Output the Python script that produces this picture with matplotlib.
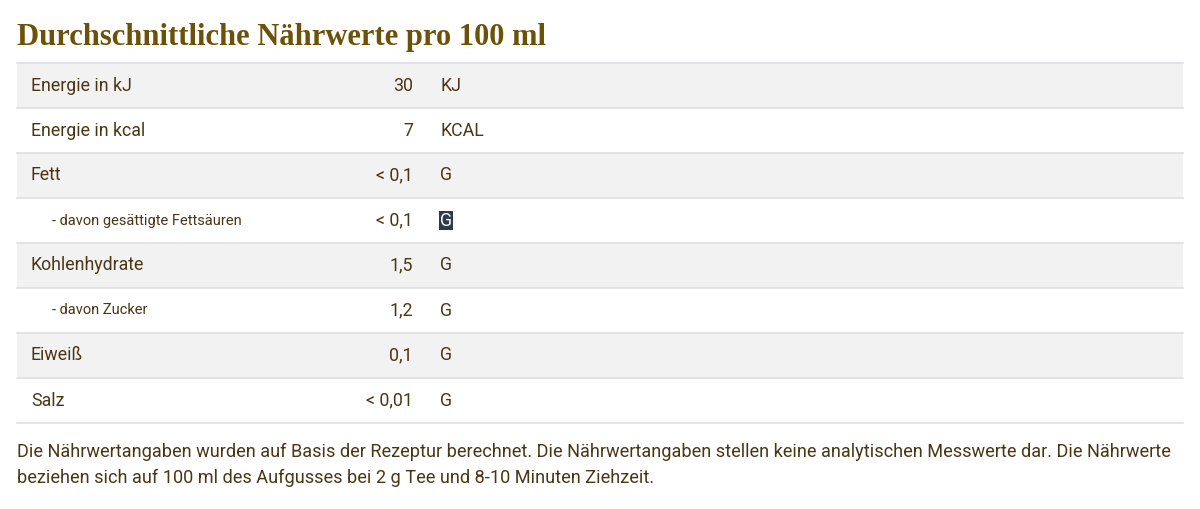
import matplotlib
matplotlib.use("Agg")
import matplotlib.pyplot as plt
from matplotlib.patches import Rectangle

labels = ["Energie in kJ", "Energie in kcal", "Fett", "- davon gesättigte Fettsäuren",
          "Kohlenhydrate", "- davon Zucker", "Eiweiß", "Salz"]
values = ["30", "7", "< 0,1", "< 0,1", "1,5", "1,2", "0,1", "< 0,01"]
units = ["KJ", "KCAL", "G", "G", "G", "G", "G", "G"]
indented = [False, False, False, True, False, True, False, False]

title = "Durchschnittliche Nährwerte pro 100 ml"
footer = ["Die Nährwertangaben wurden auf Basis der Rezeptur berechnet. Die Nährwertangaben stellen keine analytischen Messwerte dar. Die Nährwerte",
          "beziehen sich auf 100 ml des Aufgusses bei 2 g Tee und 8-10 Minuten Ziehzeit."]

W, H = 1200, 509
TXT = "#4a3614"
fig = plt.figure(figsize=(W / 100, H / 100), dpi=100)
ax = fig.add_axes([0, 0, 1, 1])
ax.set_xlim(0, W)
ax.set_ylim(H, 0)
ax.axis("off")

ax.text(17, 37, title, family="Liberation Serif", weight="bold", fontsize=22,
        color="#6b5208", va="center", ha="left")

top, rh, x0, x1 = 63, 45, 17, 1183
for i, (lab, val, unit, ind) in enumerate(zip(labels, values, units, indented)):
    y = top + i * rh
    if i % 2 == 0:
        ax.add_patch(Rectangle((x0, y), x1 - x0, rh, color="#f2f2f2", lw=0))
    ax.plot([x0, x1], [y, y], color="#dde0e4", lw=1.2)
    cy = y + rh / 2
    ax.text(52 if ind else 31, cy, lab, fontsize=10.5 if ind else 12.8, color=TXT,
            va="center", family="Roboto")
    ax.text(413, cy, val, fontsize=12.8, color=TXT, va="center", ha="right", family="Roboto")
    if i == 3:
        ax.text(440, cy, unit, fontsize=12.8, color="white", va="center", family="Roboto",
                bbox=dict(boxstyle="square,pad=0.05", fc="#2f3a4a", ec="none"))
    else:
        ax.text(440, cy, unit, fontsize=12.8, color=TXT, va="center", family="Roboto")
ax.plot([x0, x1], [top + 8 * rh, top + 8 * rh], color="#dde0e4", lw=1.2)

for j, line in enumerate(footer):
    ax.text(17, 452 + j * 26, line, fontsize=13.1, color=TXT, va="center", family="Roboto")

fig.savefig("out.png", dpi=100)
